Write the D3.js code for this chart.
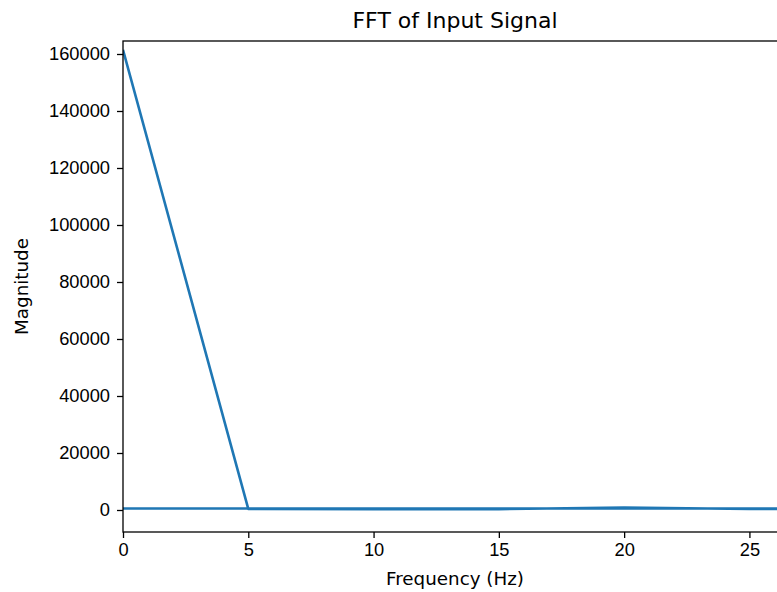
<!DOCTYPE html>
<html>
<head>
<meta charset="utf-8">
<script src="https://cdn.jsdelivr.net/npm/d3@7"></script>
<style>
  body { margin: 0; background: #fff; }
  svg { display: block; font-family: "DejaVu Sans", sans-serif; }
  .axis text { font-size: 18.3px; fill: #000; }
  .axis path, .axis line { stroke: #000; stroke-width: 1.3px; }
</style>
</head>
<body>
<div class="d3"></div>
<script>
// FFT bins in order of output (positive then negative frequencies)
var freqs = [0, 5, 10, 15, 20, 25, 30, -30, -25, -20, -15, -10, -5];
var mags = [161500, 400, 300, 300, 900, 350, 500, 500, 350, 900, 300, 300, 400];
var xTicks = [0, 5, 10, 15, 20, 25];
var yTicks = [0, 20000, 40000, 60000, 80000, 100000, 120000, 140000, 160000];

var w = 777;
var h = 592;
var padLeft = 123, padRight = 787, padTop = 41, padBottom = 532;

var svg = d3.select(".d3")
	.append("svg")
	.attr("width", w)
	.attr("height", h);

var xScale = d3.scaleLinear()
	.domain([0, 26.5])
	.range([padLeft, padRight]);
var yScale = d3.scaleLinear()
	.domain([-7720, 164560])
	.range([padBottom, padTop]);

svg.append("clipPath")
	.attr("id", "plotClip")
	.append("rect")
	.attr("x", padLeft)
	.attr("y", padTop)
	.attr("width", padRight - padLeft)
	.attr("height", padBottom - padTop);

var points = freqs.map((f, i) => ({f: f, m: mags[i]}));

var line = d3.line()
	.x(d => xScale(d.f))
	.y(d => yScale(d.m));

svg.append("path")
	.datum(points)
	.attr("clip-path", "url(#plotClip)")
	.attr("d", line)
	.attr("fill", "none")
	.attr("stroke", "#1f77b4")
	.attr("stroke-width", 2.6)
	.attr("stroke-linejoin", "round");

// frame
svg.append("rect")
	.attr("x", padLeft)
	.attr("y", padTop)
	.attr("width", padRight - padLeft)
	.attr("height", padBottom - padTop)
	.attr("fill", "none")
	.attr("stroke", "#000")
	.attr("stroke-width", 1.3);

var xAxis = d3.axisBottom(xScale)
	.tickValues(xTicks)
	.tickSize(6)
	.tickPadding(5)
	.tickFormat(d3.format("d"));
var yAxis = d3.axisLeft(yScale)
	.tickValues(yTicks)
	.tickSize(6)
	.tickPadding(7)
	.tickFormat(d3.format("d"));

svg.append("g")
	.attr("class", "axis")
	.attr("transform", "translate(0," + padBottom + ")")
	.call(xAxis)
	.call(g => g.select(".domain").remove());

svg.append("g")
	.attr("class", "axis")
	.attr("transform", "translate(" + padLeft + ",0)")
	.call(yAxis)
	.call(g => g.select(".domain").remove());

// title
svg.append("text")
	.text("FFT of Input Signal")
	.attr("x", (padLeft + padRight) / 2)
	.attr("y", 28)
	.attr("text-anchor", "middle")
	.attr("font-size", "22px");

// axis labels
svg.append("text")
	.text("Frequency (Hz)")
	.attr("x", (padLeft + padRight) / 2)
	.attr("y", 585)
	.attr("text-anchor", "middle")
	.attr("font-size", "18.3px");

svg.append("text")
	.text("Magnitude")
	.attr("transform", "translate(28," + ((padTop + padBottom) / 2) + ") rotate(-90)")
	.attr("text-anchor", "middle")
	.attr("font-size", "18.3px");
</script>
</body>
</html>
